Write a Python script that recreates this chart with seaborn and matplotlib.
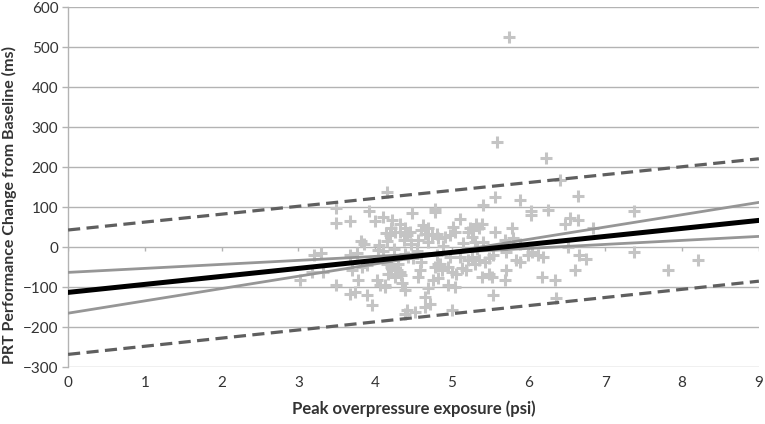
import numpy as np
import pandas as pd
import matplotlib
matplotlib.use("Agg")
import matplotlib.pyplot as plt
import seaborn as sns

# peak overpressure (psi) and PRT change (ms)
psi = [3.02, 3.18, 3.2, 3.3, 3.32, 3.49, 3.49, 3.49, 3.67, 3.67, 3.67, 3.70, 3.74,
       3.76, 3.78, 3.82, 3.83, 3.89, 3.90, 3.92, 3.96, 4.00, 4.02, 4.04, 4.06, 4.10,
       4.13, 4.13, 4.14, 4.15, 4.15, 4.15, 4.17, 4.19, 4.21, 4.21, 4.22, 4.26, 4.26,
       4.28, 4.30, 4.32, 4.32, 4.32, 4.34, 4.37, 4.39, 4.39, 4.39, 4.39, 4.41, 4.41,
       4.45, 4.47, 4.48, 4.50, 4.52, 4.56, 4.56, 4.58, 4.60, 4.60, 4.65, 4.65, 4.65,
       4.69, 4.69, 4.69, 4.71, 4.74, 4.76, 4.78, 4.78, 4.78, 4.80, 4.80, 4.82, 4.82,
       4.82, 4.84, 4.87, 4.91, 4.95, 4.95, 4.97, 4.97, 5.00, 5.00, 5.04, 5.04, 5.06,
       5.10, 5.10, 5.13, 5.19, 5.21, 5.21, 5.23, 5.26, 5.26, 5.28, 5.30, 5.30, 5.32,
       5.36, 5.36, 5.39, 5.39, 5.41, 5.41, 5.43, 5.49, 5.49, 5.52, 5.54, 5.54, 5.56,
       5.56, 5.59, 5.69, 5.69, 5.71, 5.71, 5.75, 5.78, 5.80, 5.84, 5.89, 5.89, 5.89,
       5.99, 6.03, 6.03, 6.04, 6.12, 6.17, 6.19, 6.22, 6.25, 6.34, 6.36, 6.41, 6.47,
       6.51, 6.54, 6.61, 6.64, 6.64, 6.66, 6.75, 6.84, 7.37, 7.37, 7.82, 8.21,
       4.05, 4.24, 4.43, 4.62, 4.88, 5.15, 3.86, 4.10, 4.35, 4.55, 5.02, 5.33]
prt = [-82, -62, -20, -15, -62, 98, -95, 60, 66, -20, -117, -57, -112,
       -15, -82, 16, -50, -120, -45, 90, -145, 66, -82, -8, -95, -10,
       -100, -95, 35, 137, 16, -41, -66, 30, 47, -49, 67, 38, -74,
       -57, -41, 59, 38, -62, -70, 17, 47, -16, -107, -166, 30, -157,
       38, 9, 85, -28, -162, 17, -74, -57, 42, -37, 34, -124, -149,
       47, 13, -103, -141, 30, -82, 95, 88, -49, 34, -20, 22, -78,
       -41, -41, -57, 26, -49, -95, 30, -24, -62, -157, 38, -99, -66,
       70, -24, -53, -57, 38, -32, 47, -24, 26, 42, 13, -41, 59,
       47, -32, 59, -74, 105, 13, -37, -28, -66, -74, -20, -120, 126,
       38, 263, 17, -82, -12, -57, 526, 47, 22, -32, 118, 9, -37,
       -20, 91, 80, -12, -20, -74, -24, 222, 92, -81, -128, 168, 59,
       1, 72, -56, 67, 128, -20, -30, 47, 91, -12, -56, -32,
       5, -5, -25, 55, 3, 10, 8, 75, -90, -10, 50, -5]

# fitted line, confidence lines and prediction lines (end points at x = 0 and x = 9)
line_x = [0, 9]
fit_y = [-113, 67]
ci_hi_y = [-63, 27]
ci_lo_y = [-165, 112]
pi_hi_y = [43, 221]
pi_lo_y = [-268, -85]

x_ticks = list(range(0, 10))
y_ticks = list(range(-300, 601, 100))

df = pd.DataFrame({"psi": psi, "prt": prt})
lines = pd.DataFrame({"x": line_x, "fit": fit_y, "ci_hi": ci_hi_y, "ci_lo": ci_lo_y,
                      "pi_hi": pi_hi_y, "pi_lo": pi_lo_y})

sns.set_style("white")
plt.rcParams["font.family"] = ["Lato", "DejaVu Sans"]

fig = plt.figure(figsize=(7.65, 4.24), dpi=100)
ax = fig.add_axes([0.089, 0.134, 0.903, 0.849])

for y in y_ticks:
    ax.axhline(y, color="#B3B3B3", lw=1.0, zorder=0)

sns.scatterplot(data=df, x="psi", y="prt", marker="+", s=65, linewidth=2.2,
                color="#C4C4C4", ax=ax, zorder=2)

sns.lineplot(data=lines, x="x", y="pi_hi", color="#5F5F5F", lw=2.3, ax=ax,
             zorder=3).lines[-1].set_dashes([3.8, 2.0])
sns.lineplot(data=lines, x="x", y="pi_lo", color="#5F5F5F", lw=2.3, ax=ax,
             zorder=3).lines[-1].set_dashes([3.8, 2.0])
sns.lineplot(data=lines, x="x", y="ci_hi", color="#969696", lw=2.0, ax=ax, zorder=3)
sns.lineplot(data=lines, x="x", y="ci_lo", color="#969696", lw=2.0, ax=ax, zorder=3)
sns.lineplot(data=lines, x="x", y="fit", color="black", lw=3.6, ax=ax, zorder=4)

# small tick marks on the zero line
ax.vlines(x_ticks, -10, 0, color="#B3B3B3", lw=1.0, zorder=1)

ax.set_xlim(0, 9)
ax.set_ylim(-300, 600)
ax.set_xticks(x_ticks)
ax.set_yticks(y_ticks)
ax.tick_params(axis="x", length=0, pad=6, labelsize=11, colors="#333333")
ax.tick_params(axis="y", length=4, width=1, color="#B3B3B3", pad=3, labelsize=11,
               labelcolor="#333333", left=True)
for side in ["top", "right", "bottom"]:
    ax.spines[side].set_visible(False)
ax.spines["left"].set_color("#B3B3B3")
ax.spines["left"].set_linewidth(1.0)

ax.set_xlabel("Peak overpressure exposure (psi)", fontsize=12, fontweight="bold",
              color="#333333", labelpad=8)
ax.set_ylabel("PRT Performance Change from Baseline (ms)", fontsize=11.5,
              fontweight="bold", color="#333333")
ax.yaxis.set_label_coords(-0.074, 0.45)

fig.savefig("out.png", dpi=100)
